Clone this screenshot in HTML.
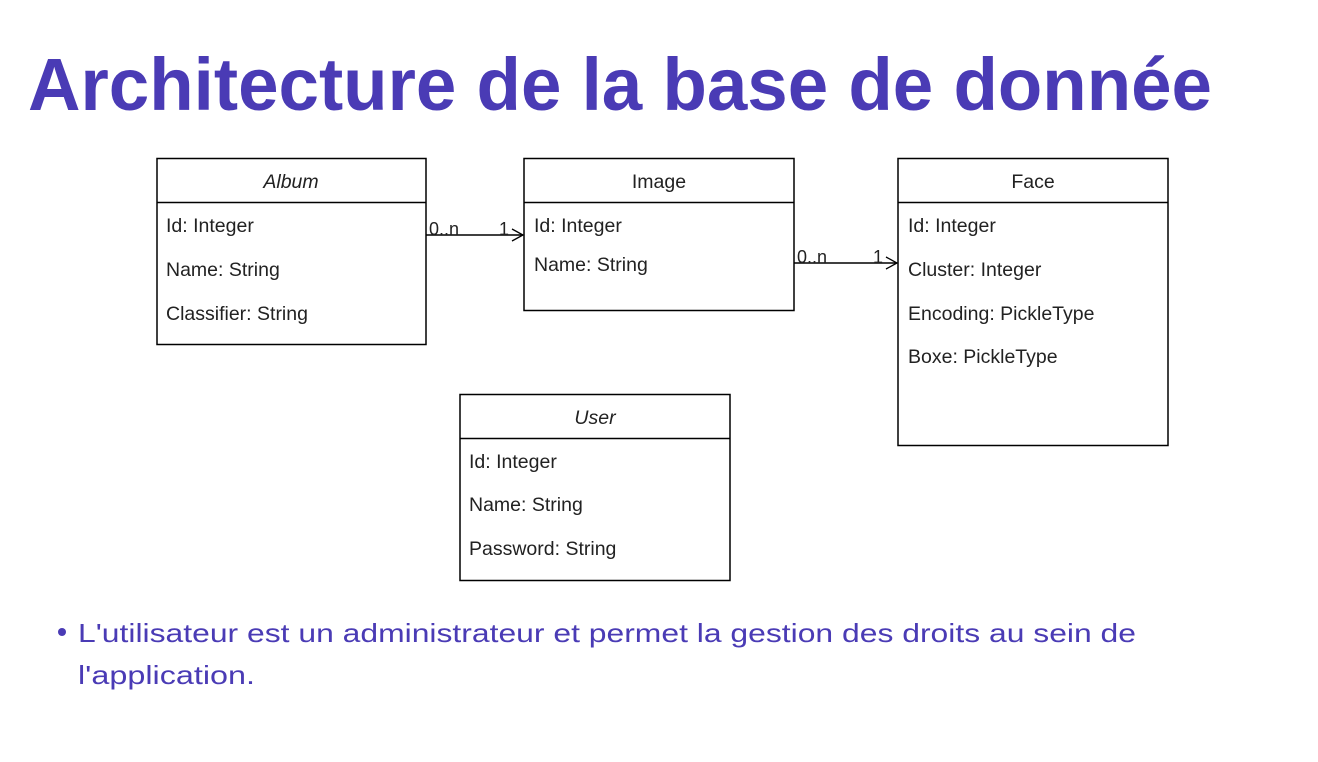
<!DOCTYPE html>
<html><head><meta charset="utf-8"><style>
html,body{margin:0;padding:0;background:#fff;}
svg{display:block;}
</style></head><body>
<svg width="1318" height="762" viewBox="0 0 1318 762" xmlns="http://www.w3.org/2000/svg">
<text x="28" y="110" font-family="Liberation Sans, sans-serif" font-weight="bold" font-size="74" fill="#4a3bb5" textLength="1184" lengthAdjust="spacingAndGlyphs">Architecture de la base de donnée</text>
<g fill="#fff" stroke="#000" stroke-width="1.5">
<rect x="157" y="158.5" width="269" height="186"/>
<rect x="524" y="158.5" width="270" height="152"/>
<rect x="898" y="158.5" width="270" height="287"/>
<rect x="460" y="394.5" width="270" height="186"/>
</g>
<g stroke="#000" stroke-width="1.5">
<line x1="157" y1="202.5" x2="426" y2="202.5"/>
<line x1="524" y1="202.5" x2="794" y2="202.5"/>
<line x1="898" y1="202.5" x2="1168" y2="202.5"/>
<line x1="460" y1="438.5" x2="730" y2="438.5"/>
<line x1="426" y1="235" x2="523" y2="235"/>
<line x1="794" y1="263" x2="897" y2="263"/>
</g>
<g fill="none" stroke="#000" stroke-width="1.3">
<polyline points="512,229 523,235 512,241"/>
<polyline points="886,257 897,263 886,269"/>
</g>
<g font-family="Liberation Sans, sans-serif" font-size="19.5" fill="#222">
<text x="291" y="188" text-anchor="middle" font-style="italic">Album</text>
<text x="659" y="188" text-anchor="middle">Image</text>
<text x="1033" y="188" text-anchor="middle">Face</text>
<text x="595" y="424" text-anchor="middle" font-style="italic">User</text>
<text x="166" y="232">Id: Integer</text>
<text x="166" y="276">Name: String</text>
<text x="166" y="320">Classifier: String</text>
<text x="534" y="232">Id: Integer</text>
<text x="534" y="271">Name: String</text>
<text x="908" y="232">Id: Integer</text>
<text x="908" y="276">Cluster: Integer</text>
<text x="908" y="320">Encoding: PickleType</text>
<text x="908" y="363">Boxe: PickleType</text>
<text x="469" y="468">Id: Integer</text>
<text x="469" y="511">Name: String</text>
<text x="469" y="555">Password: String</text>
</g>
<g font-family="Liberation Sans, sans-serif" font-size="18" fill="#222">
<text x="429" y="235">0..n</text>
<text x="499" y="235">1</text>
<text x="797" y="263">0..n</text>
<text x="873" y="263">1</text>
</g>
<circle cx="62" cy="632" r="4" fill="#4a3bb5"/>
<g font-family="Liberation Sans, sans-serif" font-size="26" fill="#4a3bb5">
<text x="78" y="642" textLength="1058" lengthAdjust="spacingAndGlyphs">L'utilisateur est un administrateur et permet la gestion des droits au sein de</text>
<text x="78" y="684" textLength="177" lengthAdjust="spacingAndGlyphs">l'application.</text>
</g>
</svg>
</body></html>
